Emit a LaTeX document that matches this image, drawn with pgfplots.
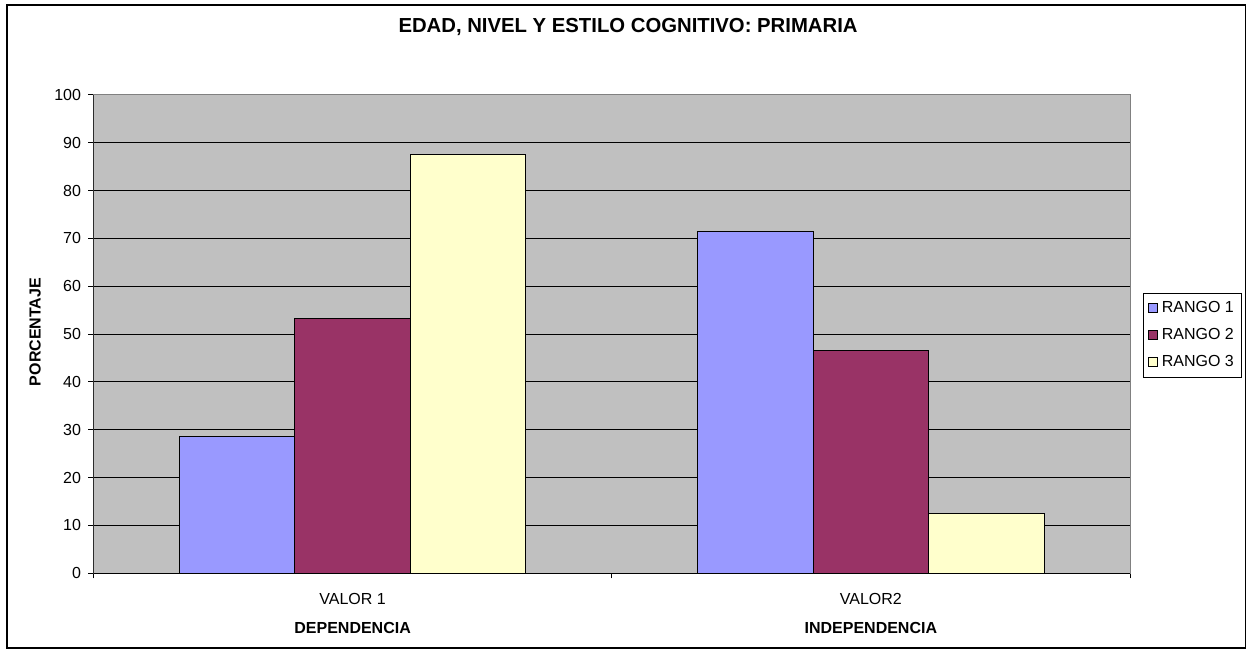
\documentclass[border=0pt]{standalone}
\usepackage{pgfplots}
\pgfplotsset{compat=1.18}
\usepackage{fontspec}
\setmainfont{Liberation Sans}
\definecolor{r1}{HTML}{9999FF}
\definecolor{r2}{HTML}{993366}
\definecolor{r3}{HTML}{FFFFCC}
\definecolor{bg}{HTML}{C0C0C0}
\begin{document}
\begin{tikzpicture}
\path[use as bounding box] (0pt,0pt) rectangle (623.5pt,326.5pt);
\draw[line width=0.6pt] (3.5pt,2.5pt) rectangle (622.75pt,324pt);
\begin{axis}[
  at={(46.75pt,39.85pt)}, anchor=south west,
  scale only axis, width=518.25pt, height=239.15pt,
  xmin=-0.5, xmax=1.5, ymin=0, ymax=100,
  ytick={0,10,...,100},
  xtick={-0.5,0.5,1.5}, xticklabels={},
  extra x ticks={0,1},
  extra x tick labels={{VALOR 1\\\textbf{DEPENDENCIA}},{VALOR2\\\textbf{INDEPENDENCIA}}},
  extra x tick style={major tick length=0pt,
     xticklabel style={align=center, anchor=north, yshift=-6.66pt, font=\fontsize{8}{14.5}\selectfont}},
  tick align=outside, major tick length=2.5pt,
  xtick pos=lower, ytick pos=left,
  tick style={black, line width=0.5pt},
  ymajorgrids, major grid style={black, line width=0.5pt},
  axis background/.style={fill=bg},
  axis line style={draw=gray, line width=0.5pt},
  ticklabel style={font=\fontsize{8}{9.6}\selectfont},
  yticklabel style={xshift=-0.2pt},
  /pgf/number format/assume math mode=true,
  bar width=0.223,
  ylabel={\textbf{PORCENTAJE}},
  ylabel style={at={(axis description cs:-0.0564,0.5045)}, anchor=center, font=\fontsize{8}{9.6}\selectfont},
  title={EDAD, NIVEL Y ESTILO COGNITIVO: PRIMARIA},
  title style={at={(axis description cs:0.5157,1.1052)}, anchor=base, font=\bfseries\fontsize{10.15}{12}\selectfont},
  legend style={at={(1.0128,0.5867)}, anchor=north west, draw=black, line width=0.5pt,
     fill=white, font=\fontsize{8}{9.6}\selectfont, row sep=2.4pt, inner xsep=2pt, inner ysep=2pt},
  legend cell align=left,
  legend image code/.code={\draw[#1,draw=black,line width=0.5pt] (0pt,-2.25pt) rectangle (4.5pt,2.25pt);},
]
\addplot[ybar, bar shift=-0.223, fill=r1, draw=black, line width=0.5pt] coordinates {(0,28.57) (1,71.43)};
\addplot[ybar, bar shift=0, fill=r2, draw=black, line width=0.5pt] coordinates {(0,53.33) (1,46.67)};
\addplot[ybar, bar shift=0.223, fill=r3, draw=black, line width=0.5pt] coordinates {(0,87.5) (1,12.5)};
\legend{RANGO 1, RANGO 2, RANGO 3}
\draw[black, line width=0.6pt] (rel axis cs:0,1) -- (rel axis cs:0,0) -- (rel axis cs:1,0);
\end{axis}
\end{tikzpicture}
\end{document}
